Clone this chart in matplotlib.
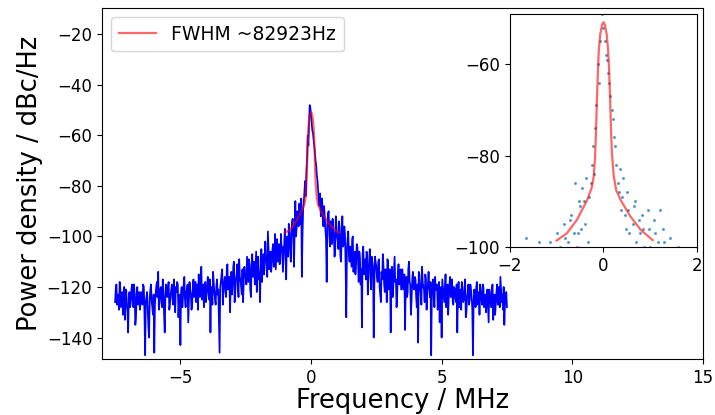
import numpy as np
import matplotlib
matplotlib.use("Agg")
import matplotlib.pyplot as plt

# Measured spectrum on a 25 kHz grid: values at the 50 kHz grid points
# (power) and at the points half-way between them (power_mid), in dBc/Hz
freq_start, freq_step = -7.5, 0.025
power = [
    # -7.50 .. -6.55
    -126, -119, -123, -129, -121, -125, -131, -120, -124, -127,
    -138, -122, -126, -119, -128, -123, -132, -120, -125, -129,
    # -6.50 .. -5.55
    -122, -127, -120, -147, -124, -129, -140, -121, -126, -131,
    -146, -123, -118, -114, -125, -120, -128, -122, -138, -119,
    # -5.50 .. -4.55
    -124, -118, -127, -121, -125, -117, -130, -122, -119, -126,
    -143, -120, -124, -116, -128, -121, -134, -118, -123, -127,
    # -4.50 .. -3.55
    -117, -122, -126, -119, -115, -124, -112, -121, -128, -118,
    -123, -116, -125, -138, -120, -114, -122, -127, -117, -121,
    # -3.50 .. -2.55
    -146, -118, -113, -121, -116, -124, -111, -119, -130, -114,
    -118, -110, -122, -115, -120, -109, -117, -123, -126, -112,
    # -2.50 .. -1.55
    -115, -108, -118, -111, -124, -107, -114, -119, -106, -112,
    -117, -126, -105, -111, -115, -102, -109, -98, -113, -106,
    # -1.50 .. -0.55
    -110, -103, -108, -113, -101, -106, -111, -99, -104, -108,
    -97, -117, -102, -95, -105, -99, -93, -112, -86, -97,
    # -0.50 .. 0.45
    -91, -87, -95, -116, -89, -82, -84, -69, -64, -48,
    -52, -58, -62, -67, -72, -78, -86, -83, -89, -93,
    # 0.50 .. 1.45
    -88, -97, -118, -91, -99, -94, -103, -96, -108, -92,
    -100, -105, -97, -110, -92, -103, -99, -132, -101, -107,
    # 1.50 .. 2.45
    -104, -112, -100, -109, -115, -103, -110, -106, -119, -136,
    -104, -111, -117, -107, -113, -105, -121, -110, -140, -108,
    # 2.50 .. 3.45
    -112, -118, -109, -123, -114, -107, -119, -113, -126, -110,
    -116, -138, -112, -120, -108, -117, -123, -111, -115, -121,
    # 3.50 .. 4.45
    -113, -118, -137, -116, -122, -110, -119, -125, -114, -121,
    -117, -128, -142, -115, -123, -112, -120, -126, -117, -122,
    # 4.50 .. 5.45
    -114, -124, -147, -119, -125, -116, -121, -129, -118, -123,
    -140, -120, -126, -115, -122, -131, -119, -124, -117, -127,
    # 5.50 .. 6.45
    -121, -126, -138, -118, -124, -129, -120, -125, -117, -130,
    -122, -127, -119, -124, -147, -121, -128, -118, -125, -131,
    # 6.50 .. 7.50
    -122, -127, -120, -126, -130, -121, -134, -123, -128, -119,
    -125, -131, -122, -127, -120, -116, -126, -129, -135, -124,
    -128,
]
power_mid = [
    # -7.475 .. -6.525
    -121, -127, -125, -118, -128, -122, -126, -133, -121, -130,
    -124, -128, -121, -125, -119, -135, -123, -127, -122, -126,
    # -6.475 .. -5.525
    -125, -119, -131, -126, -122, -136, -125, -119, -128, -123,
    -127, -120, -124, -129, -121, -126, -117, -131, -124, -122,
    # -5.475 .. -4.525
    -120, -129, -123, -119, -127, -124, -120, -118, -132, -123,
    -122, -128, -119, -125, -122, -119, -126, -121, -129, -120,
    # -4.475 .. -3.525
    -124, -118, -121, -129, -120, -117, -125, -119, -122, -126,
    -119, -122, -117, -121, -127, -118, -125, -120, -123, -133,
    # -3.475 .. -2.525
    -120, -115, -127, -118, -122, -113, -121, -116, -119, -123,
    -112, -126, -117, -111, -124, -116, -120, -113, -118, -116,
    # -2.475 .. -1.525
    -119, -113, -109, -121, -112, -116, -110, -113, -122, -108,
    -114, -109, -118, -107, -112, -110, -116, -105, -109, -114,
    # -1.475 .. -0.525
    -105, -112, -99, -107, -110, -103, -109, -106, -114, -101,
    -106, -100, -108, -98, -110, -94, -103, -97, -100, -90,
    # -0.475 .. 0.475
    -96, -90, -85, -99, -86, -78, -74, -60, -55, -49,
    -55, -59, -64, -70, -76, -82, -88, -92, -85, -96,
    # 0.525 .. 1.475
    -92, -101, -95, -90, -104, -97, -93, -100, -106, -96,
    -102, -94, -108, -99, -104, -96, -112, -105, -98, -110,
    # 1.525 .. 2.475
    -108, -101, -114, -106, -111, -104, -118, -109, -113, -107,
    -115, -109, -106, -123, -111, -116, -108, -112, -119, -110,
    # 2.525 .. 3.475
    -116, -110, -120, -126, -117, -112, -122, -116, -109, -121,
    -113, -119, -124, -114, -118, -128, -115, -119, -113, -117,
    # 3.525 .. 4.475
    -121, -115, -120, -124, -113, -118, -131, -117, -120, -116,
    -124, -119, -114, -120, -127, -118, -121, -115, -129, -119,
    # 4.525 .. 5.475
    -120, -118, -123, -117, -128, -121, -119, -124, -134, -120,
    -117, -123, -121, -128, -119, -124, -116, -122, -126, -120,
    # 5.525 .. 6.475
    -124, -119, -123, -128, -121, -118, -126, -122, -132, -124,
    -119, -125, -121, -129, -126, -123, -120, -127, -122, -119,
    # 6.525 .. 7.475
    -125, -119, -128, -123, -125, -128, -121, -126, -120, -133,
    -123, -126, -119, -124, -128, -121, -123, -120, -127, -122,
]

# Fitted line shape
fit_freq = [-1.00, -0.78, -0.57, -0.35, -0.25, -0.21, -0.18, -0.16, -0.14,
            -0.12, -0.10, -0.07, -0.03, 0.00, 0.03, 0.07, 0.10, 0.12, 0.14,
            0.16, 0.18, 0.22, 0.27, 0.37, 0.58, 0.80, 1.05]
fit_power = [-98.6, -97.0, -94.1, -89.8, -87.0, -84.7, -80.5, -75.0, -68.0,
             -62.0, -57.0, -53.5, -51.3, -50.8, -51.3, -53.5, -57.0, -61.0,
             -67.0, -74.0, -79.5, -84.5, -87.5, -89.8, -93.4, -96.3, -98.5]
fit_label = "FWHM ~82923Hz"

main_xlim = (-8, 15)
main_ylim = (-148.5, -9.5)
inset_xlim = (-2, 2)
inset_ylim = (-100, -49)

# arrange the two measured lists on one frequency grid
spec = np.empty(len(power) + len(power_mid))
spec[0::2] = power
spec[1::2] = power_mid
freq = np.round(np.arange(len(spec)) * freq_step + freq_start, 4)

fig = plt.figure(figsize=(7.15, 4.15), dpi=100)
ax = fig.add_axes([0.1427, 0.135, 0.983 - 0.1427, 0.981 - 0.135])
ax.plot(freq, spec, color="blue", lw=1.25)
ax.plot(fit_freq, fit_power, color="red", lw=1.6, alpha=0.6, label=fit_label)
ax.set_xlim(*main_xlim)
ax.set_ylim(*main_ylim)
ax.set_xticks([-5, 0, 5, 10, 15])
ax.set_yticks([-140, -120, -100, -80, -60, -40, -20])
ax.tick_params(labelsize=12)
ax.set_xlabel("Frequency / MHz", fontsize=18.5, labelpad=1)
ax.set_ylabel("Power density / dBc/Hz", fontsize=18.5, labelpad=3)
ax.legend(loc="upper left", fontsize=13.5)

ins = fig.add_axes([0.713, 0.405, 0.975 - 0.713, 0.966 - 0.405])
ins.plot(freq, spec, ".", color="tab:blue", ms=2.5, alpha=0.6)
ins.plot(fit_freq, fit_power, color="red", lw=1.6, alpha=0.6)
ins.set_xlim(*inset_xlim)
ins.set_ylim(*inset_ylim)
ins.set_xticks([-2, 0, 2])
ins.set_yticks([-100, -80, -60])
ins.tick_params(labelsize=12)

fig.savefig("out.png", dpi=100)
